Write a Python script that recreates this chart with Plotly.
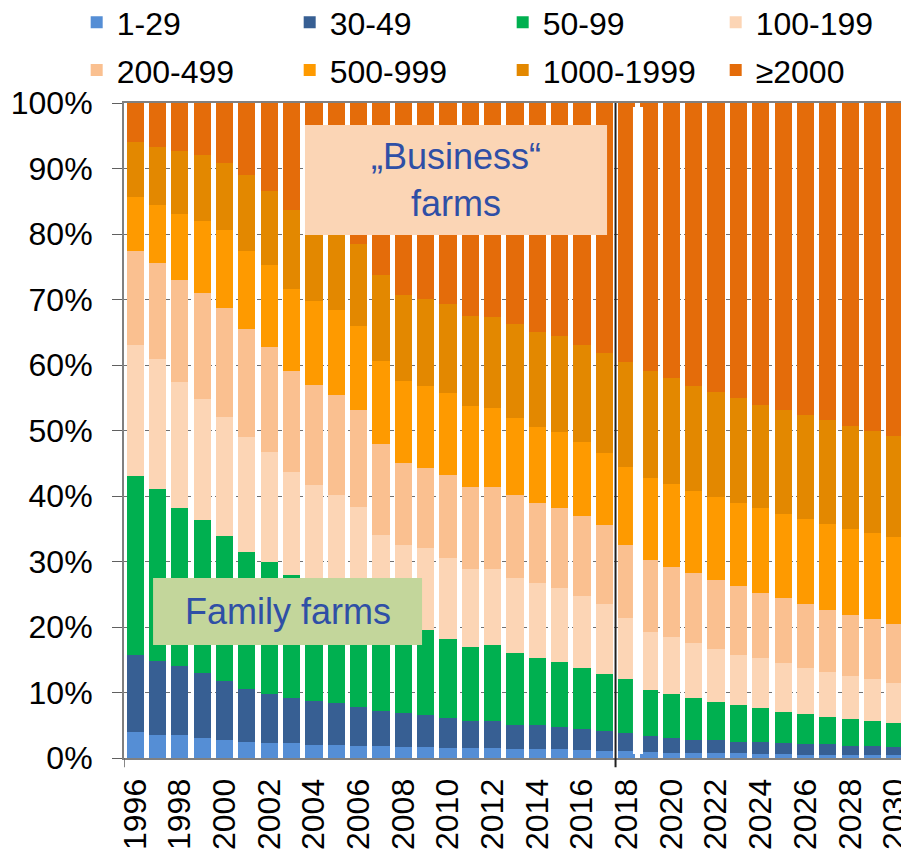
import plotly.graph_objects as go

years = list(range(1996, 2031))
tick_years = list(range(1996, 2031, 2))

series_names = ["1-29", "30-49", "50-99", "100-199", "200-499", "500-999", "1000-1999", "≥2000"]
colors = ["#558ED5", "#375F93", "#00B050", "#FCD5B5", "#FAC090", "#FE9A00", "#E38800", "#E46C0A"]

s_1_29 = [3.9, 3.5, 3.5, 3.0, 2.8, 2.5, 2.3, 2.3, 2.0, 2.0, 1.8, 1.8, 1.7, 1.7, 1.5, 1.5, 1.5, 1.3,
          1.3, 1.3, 1.2, 1.1, 1.0, 0.9, 0.8, 0.7, 0.7, 0.7, 0.6, 0.6, 0.5, 0.5, 0.5, 0.5, 0.5]
s_30_49 = [11.9, 11.3, 10.5, 10.0, 9.0, 8.0, 7.4, 6.9, 6.7, 6.4, 6.0, 5.4, 5.1, 4.8, 4.6, 4.2, 4.2, 3.8,
           3.7, 3.4, 3.3, 3.0, 2.8, 2.4, 2.2, 2.1, 2.0, 1.8, 1.9, 1.7, 1.7, 1.6, 1.4, 1.3, 1.2]
s_50_99 = [27.2, 26.2, 24.1, 23.3, 22.1, 21.0, 20.2, 18.7, 17.6, 16.2, 15.2, 14.4, 13.6, 13.0, 12.1, 11.3, 11.5, 10.9,
           10.3, 9.9, 9.3, 8.7, 8.3, 7.1, 6.8, 6.4, 5.9, 5.6, 5.2, 4.8, 4.5, 4.2, 4.1, 3.9, 3.6]
s_100_199 = [20.1, 19.9, 19.3, 18.5, 18.1, 17.5, 16.8, 15.7, 15.4, 15.6, 15.3, 12.5, 12.1, 12.5, 12.3, 11.9, 11.7, 11.5,
             11.4, 11.3, 11.0, 10.7, 9.2, 8.9, 8.6, 8.3, 8.0, 7.7, 7.5, 7.4, 7.1, 6.9, 6.5, 6.3, 6.2]
s_200_499 = [14.3, 14.7, 15.6, 16.2, 16.7, 16.5, 16.0, 15.5, 15.2, 15.2, 14.9, 13.9, 12.6, 12.3, 12.7, 12.5, 12.5, 12.6,
             12.3, 12.3, 12.2, 12.0, 11.2, 11.0, 10.8, 10.7, 10.6, 10.4, 10.0, 9.9, 9.7, 9.4, 9.3, 9.2, 9.0]
s_500_999 = [8.2, 8.9, 10.0, 11.0, 11.9, 11.9, 12.6, 12.5, 12.9, 13.0, 12.7, 12.6, 12.5, 12.5, 12.6, 12.4, 12.0, 11.8,
             11.6, 11.5, 11.2, 11.1, 11.9, 12.5, 12.6, 12.5, 12.7, 12.7, 12.9, 12.8, 13.0, 13.1, 13.2, 13.1, 13.2]
s_1000_1999 = [8.5, 8.8, 9.6, 10.1, 10.2, 11.6, 11.3, 12.0, 12.1, 12.3, 12.6, 13.2, 13.1, 13.3, 13.5, 13.7, 14.0, 14.3,
               14.5, 14.7, 14.9, 15.2, 16.0, 16.3, 16.2, 16.1, 16.0, 16.1, 15.8, 15.9, 15.8, 15.9, 15.7, 15.7, 15.5]
s_2000_plus = [5.9, 6.7, 7.4, 7.9, 9.2, 11.0, 13.4, 16.4, 18.1, 19.3, 21.5, 26.2, 29.3, 29.9, 30.7, 32.5, 32.6, 33.8,
               34.9, 35.6, 36.9, 38.2, 39.6, 40.9, 42.0, 43.2, 44.1, 45.0, 46.1, 46.9, 47.7, 48.4, 49.3, 50.0, 50.8]

series_values = [s_1_29, s_30_49, s_50_99, s_100_199, s_200_499, s_500_999, s_1000_1999, s_2000_plus]
y_ticks = list(range(0, 101, 10))

FONT = "Liberation Sans, Arial, sans-serif"

fig = go.Figure()
for i, (name, vals, col) in enumerate(zip(series_names, series_values, colors)):
    fig.add_trace(go.Bar(
        x=years, y=vals, name=name, marker=dict(color=col, line=dict(width=0)),
        legend="legend" if i < 4 else "legend2",
    ))

legend_common = dict(
    orientation="h", xanchor="left", yanchor="middle", x=-0.0605,
    font=dict(family=FONT, size=32, color="#000000"),
    entrywidth=168, entrywidthmode="pixels", traceorder="normal",
    bgcolor="rgba(0,0,0,0)", itemclick=False,
)

# page body adds an 8px offset; plot area placed to match the reference
fig.update_layout(
    width=909, height=845,
    margin=dict(l=116, r=11, t=95, b=95, autoexpand=False),
    paper_bgcolor="white", plot_bgcolor="white",
    barmode="stack", bargap=0.23,
    font=dict(family=FONT, size=32, color="#000000"),
    legend=dict(**legend_common, y=1.123),
    legend2=dict(**legend_common, y=1.050),
    xaxis=dict(
        range=[1995.5, 2030.5], tickmode="array", tickvals=tick_years,
        ticktext=[str(y) for y in tick_years], tickangle=-90,
        tickfont=dict(family=FONT, size=32, color="#000000"),
        showgrid=False, showline=True, linecolor="#808080", linewidth=2,
        mirror=True, ticks="", zeroline=False, ticklabelstandoff=6,
        ticklabeloverflow="allow", automargin=False,
    ),
    yaxis=dict(
        range=[0, 100], tickmode="array", tickvals=y_ticks,
        ticktext=[f"{v}%" for v in y_ticks],
        tickfont=dict(family=FONT, size=32, color="#000000"),
        showgrid=True, gridcolor="#707070", gridwidth=1, griddash="4px,3px",
        showline=True, linecolor="#808080", linewidth=2, mirror=True,
        ticks="outside", ticklen=10, tickcolor="#606060", tickwidth=1,
        zeroline=False, ticklabelstandoff=13, automargin=False,
    ),
)

# divider between observed and projected years
fig.add_shape(type="line", xref="x", yref="paper", x0=2017.5, x1=2017.5, y0=-0.014, y1=1.0,
              line=dict(color="#202020", width=2), layer="above")
fig.add_shape(type="line", xref="x", yref="paper", x0=1995.5, x1=1995.5, y0=-0.014, y1=0.0,
              line=dict(color="#606060", width=1.5), layer="above")
# white gap artifact near 2018/2019
fig.add_shape(type="rect", xref="x", yref="paper", x0=2018.28, x1=2018.73, y0=0.006, y1=0.994,
              fillcolor="white", line=dict(width=0), layer="above")

# label boxes
fig.add_shape(type="rect", xref="x", yref="paper", x0=2003.60, x1=2017.12, y0=0.7985, y1=0.9664,
              fillcolor="#FBD5B5", line=dict(width=0), layer="above")
fig.add_shape(type="rect", xref="x", yref="paper", x0=1996.80, x1=2008.84, y0=0.1725, y1=0.2748,
              fillcolor="#C3D69B", line=dict(width=0), layer="above")

fig.add_annotation(x=(2003.60 + 2017.12) / 2, y=(0.7985 + 0.9664) / 2, xref="x", yref="paper",
                   xanchor="center", yanchor="middle",
                   text="„Business“<br>farms", showarrow=False,
                   font=dict(family=FONT, size=36, color="#2F4FA6"), align="center")
fig.add_annotation(x=(1996.80 + 2008.84) / 2, y=(0.1725 + 0.2748) / 2, xref="x", yref="paper",
                   xanchor="center", yanchor="middle",
                   text="Family farms", showarrow=False,
                   font=dict(family=FONT, size=36, color="#2F4FA6"), align="center")

fig.write_html("out.html")
